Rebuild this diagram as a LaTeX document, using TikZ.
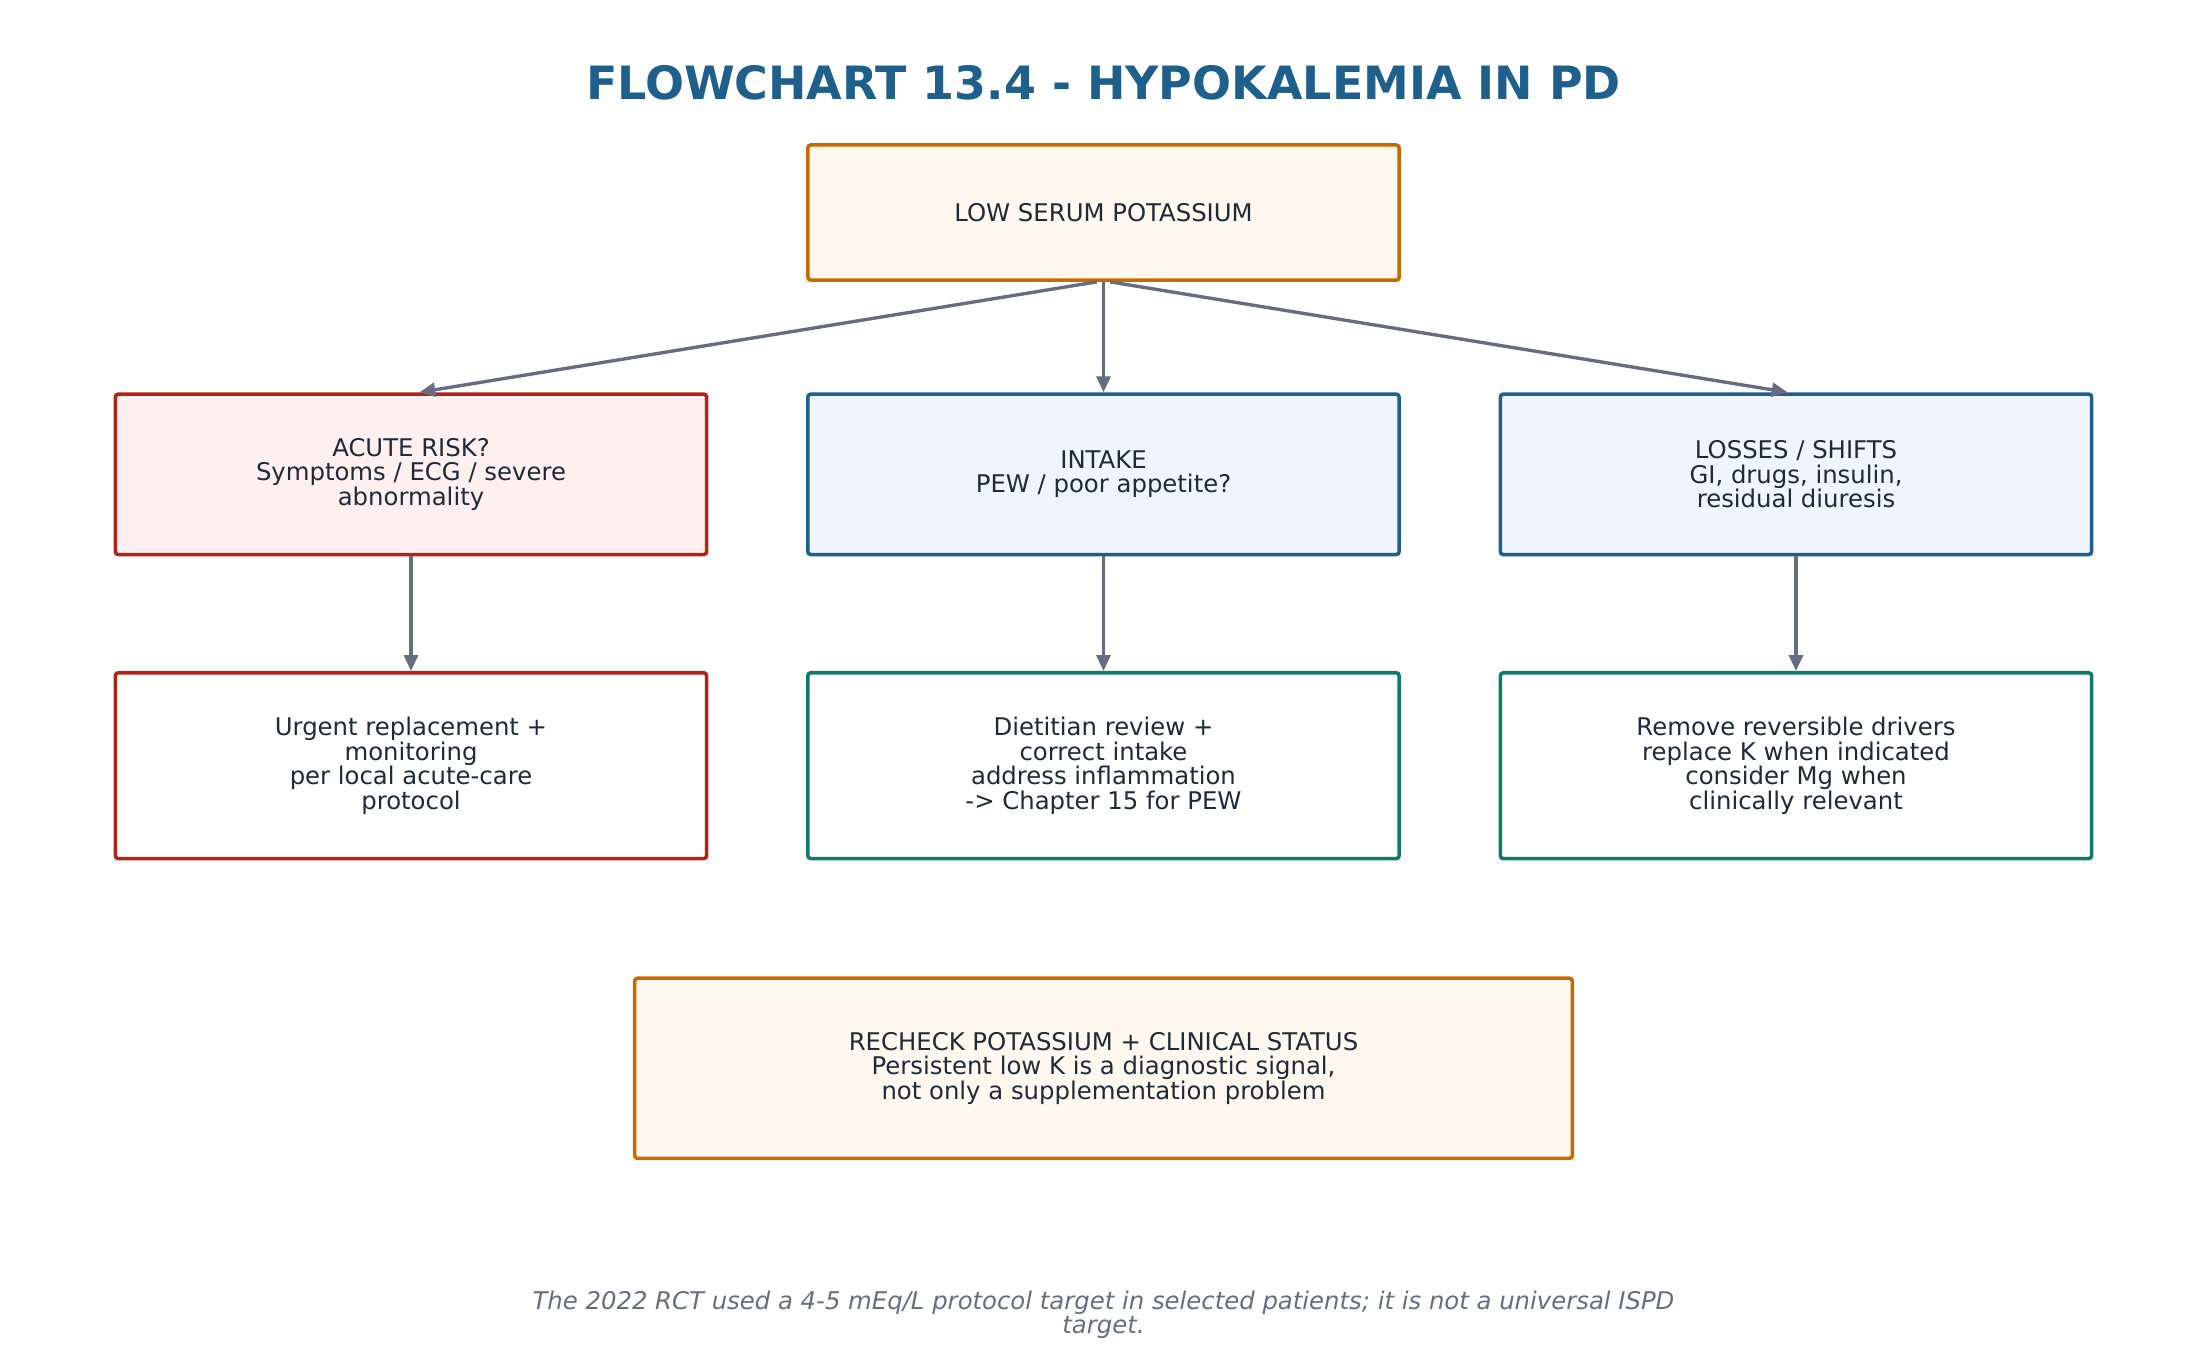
\documentclass[tikz,border=0pt]{standalone}
\usepackage{fontspec}
\setmainfont{DejaVu Sans}
\usetikzlibrary{positioning,arrows.meta}
\definecolor{titleblue}{HTML}{1F5F8B}
\definecolor{orangeline}{HTML}{C96A00}
\definecolor{orangefill}{HTML}{FFF8EE}
\definecolor{redline}{HTML}{B22418}
\definecolor{redfill}{HTML}{FDF0EF}
\definecolor{blueline}{HTML}{1F5F8B}
\definecolor{bluefill}{HTML}{EEF5FC}
\definecolor{tealline}{HTML}{0E7A6E}
\definecolor{arrowgray}{HTML}{666D80}
\definecolor{textdark}{HTML}{1E2A3A}
\tikzstyle{box} = [rectangle, rounded corners=1.5pt, line width=1.8pt, align=center, text=textdark, font=\fontsize{12.3}{12.4}\selectfont, minimum width=10.5cm]
\tikzstyle{startbox} = [box, draw=orangeline, fill=orangefill]
\tikzstyle{riskbox} = [box, draw=redline, fill=redfill, minimum height=2.85cm]
\tikzstyle{causebox} = [box, draw=blueline, fill=bluefill, minimum height=2.85cm]
\tikzstyle{urgentbox} = [box, draw=redline, fill=white, minimum height=3.3cm]
\tikzstyle{actionbox} = [box, draw=tealline, fill=white, minimum height=3.3cm]
\tikzstyle{arrow} = [line width=1.7pt, draw=arrowgray, -{Triangle[length=8pt,width=7pt]}]
\begin{document}
\begin{tikzpicture}[x=0.025cm, y=-0.025cm]
\useasboundingbox (0,0) rectangle (1568,974);
\node (title) [font=\bfseries\fontsize{23.2}{26}\selectfont, text=titleblue] at (784,59) {FLOWCHART 13.4 - HYPOKALEMIA IN PD};
\node (low) [startbox, minimum height=2.4cm] at (784,151) {LOW SERUM POTASSIUM};
\node (acute) [riskbox] at (292,337) {ACUTE RISK?\\Symptoms / ECG / severe\\abnormality};
\node (intake) [causebox] at (784,337) {INTAKE\\PEW / poor appetite?};
\node (losses) [causebox] at (1276,337) {LOSSES / SHIFTS\\GI, drugs, insulin,\\residual diuresis};
\node (urgent) [urgentbox] at (292,544) {Urgent replacement +\\monitoring\\per local acute-care\\protocol};
\node (diet) [actionbox] at (784,544) {Dietitian review +\\correct intake\\address inflammation\\-> Chapter 15 for PEW};
\node (drivers) [actionbox] at (1276,544) {Remove reversible drivers\\replace K when indicated\\consider Mg when\\clinically relevant};
\node (recheck) [startbox, minimum width=16.65cm, minimum height=3.2cm] at (784,759) {RECHECK POTASSIUM + CLINICAL STATUS\\Persistent low K is a diagnostic signal,\\not only a supplementation problem};
\node (note) [font=\itshape\fontsize{12.3}{12.4}\selectfont, text=arrowgray, align=center] at (784,934) {The 2022 RCT used a 4-5 mEq/L protocol target in selected patients; it is not a universal ISPD\\target.};
\draw [arrow] ([xshift=-0.12cm]low.south) -- ([xshift=0.15cm]acute.north);
\draw [arrow] (low) -- (intake);
\draw [arrow] ([xshift=0.12cm]low.south) -- ([xshift=-0.15cm]losses.north);
\draw [arrow] (acute) -- (urgent);
\draw [arrow] (intake) -- (diet);
\draw [arrow] (losses) -- (drivers);
\end{tikzpicture}
\end{document}
